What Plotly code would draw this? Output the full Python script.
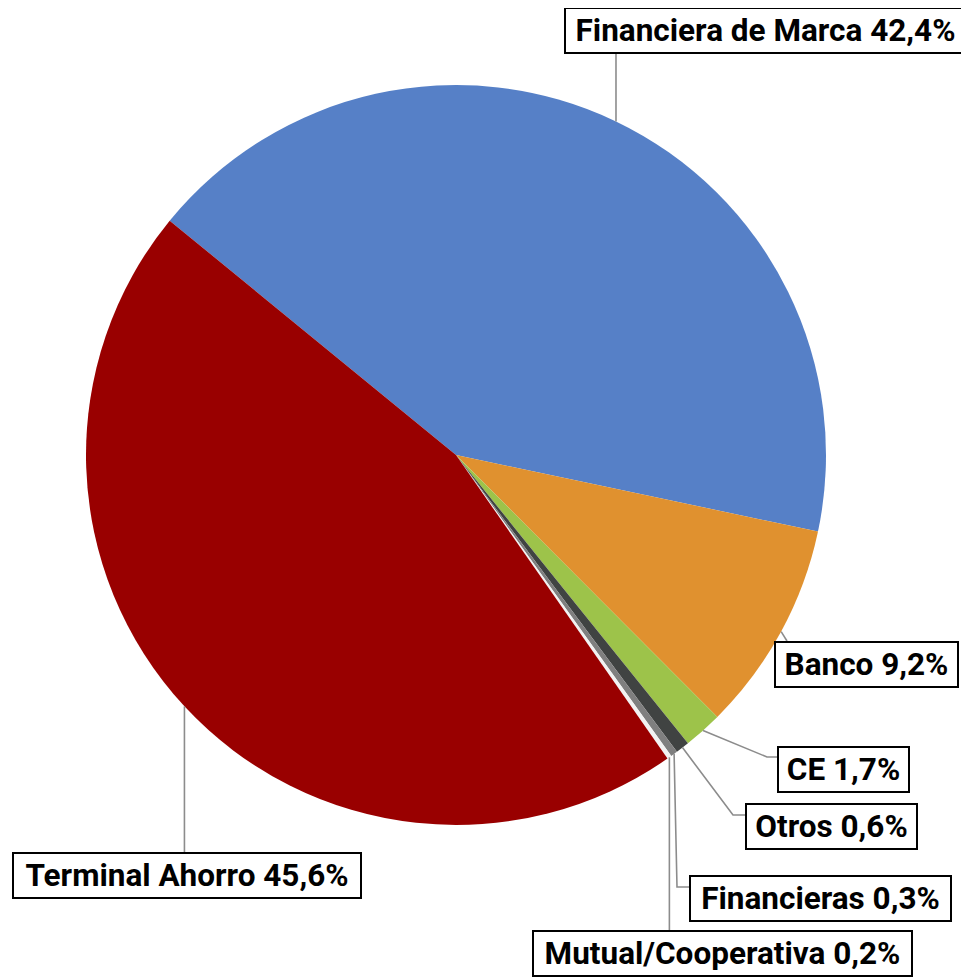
import math
import plotly.graph_objects as go

# ---- data ----
categories = ["Financiera de Marca", "Banco", "CE", "Otros", "Financieras",
              "Mutual/Cooperativa", "Terminal Ahorro"]
shares = [42.4, 9.2, 1.7, 0.6, 0.3, 0.2, 45.6]
share_labels = ["42,4%", "9,2%", "1,7%", "0,6%", "0,3%", "0,2%", "45,6%"]
colors = ["#5680C7", "#E0912F", "#9DC34A", "#404342", "#7F7F7F", "#F2F2F2", "#990000"]

OFF = 8  # page body margin
W, H = 969 - OFF, 977 - OFF
CX, CY, R = 456 - OFF, 455 - OFF, 370
ROT = -50.7  # degrees, clockwise from 12 o'clock
BW, PAD = 2, 3

# label boxes: centre (px, page coords) and outer size (px)
label_pos = [(765.5, 30.5), (866.5, 664), (843.5, 769.5), (831.5, 826.5),
             (820.5, 898.5), (722.5, 953), (187, 875.5)]
label_size = [(403, 47), (185, 47), (133, 47), (173, 47), (263, 47), (381, 47), (350, 47)]
leader_pts = [
    [(None, 54)],
    [(787, 641)],
    [(767, 757), (777, 757)],
    [(733, 815), (745, 815)],
    [(677, 887), (689, 887)],
    [(None, 930)],
    [(None, 852)],
]


def px(x, y):
    return x / W, 1 - y / H


def page(x, y):
    return (None if x is None else x - OFF), y - OFF


fig = go.Figure(go.Pie(
    labels=categories, values=shares, sort=False, direction="clockwise",
    rotation=ROT, marker=dict(colors=colors, line=dict(width=0)),
    textinfo="none", hoverinfo="label+percent", showlegend=False,
    domain=dict(x=[(CX - R) / W, (CX + R) / W], y=[1 - (CY + R) / H, 1 - (CY - R) / H]),
))

total = sum(shares)
cum = 0.0
shapes, annotations = [], []
for i, (cat, v) in enumerate(zip(categories, shares)):
    mid = ROT + (cum + v / 2) / total * 360.0
    cum += v
    a = math.radians(mid)
    ex, ey = CX + R * math.sin(a), CY - R * math.cos(a)
    pts = [(ex, ey)]
    for p in leader_pts[i]:
        bx, by = page(*p)
        pts.append((ex if bx is None else bx, by))
    path = ""
    for k, (x, y) in enumerate(pts):
        X, Y = px(x, y)
        path += ("M" if k == 0 else "L") + f"{X},{Y} "
    shapes.append(dict(type="path", xref="paper", yref="paper", path=path.strip(),
                       line=dict(color="#8C8C8C", width=1.6)))
    lx, ly = px(*page(*label_pos[i]))
    ow, oh = label_size[i]
    annotations.append(dict(
        x=lx, y=ly, xref="paper", yref="paper", xanchor="center", yanchor="middle",
        text=f"<b>{cat} {share_labels[i]}</b>", showarrow=False,
        width=ow - 2 * (BW + PAD), height=oh - 2 * (BW + PAD), align="center", valign="middle",
        font=dict(family="Roboto", size=31.5, color="#000000"),
        bgcolor="#FFFFFF", bordercolor="#000000", borderwidth=BW, borderpad=PAD,
    ))

fig.update_layout(
    width=W, height=H, margin=dict(l=0, r=0, t=0, b=0),
    paper_bgcolor="#FFFFFF", plot_bgcolor="#FFFFFF",
    shapes=shapes, annotations=annotations,
)
fig.write_html("out.html")
